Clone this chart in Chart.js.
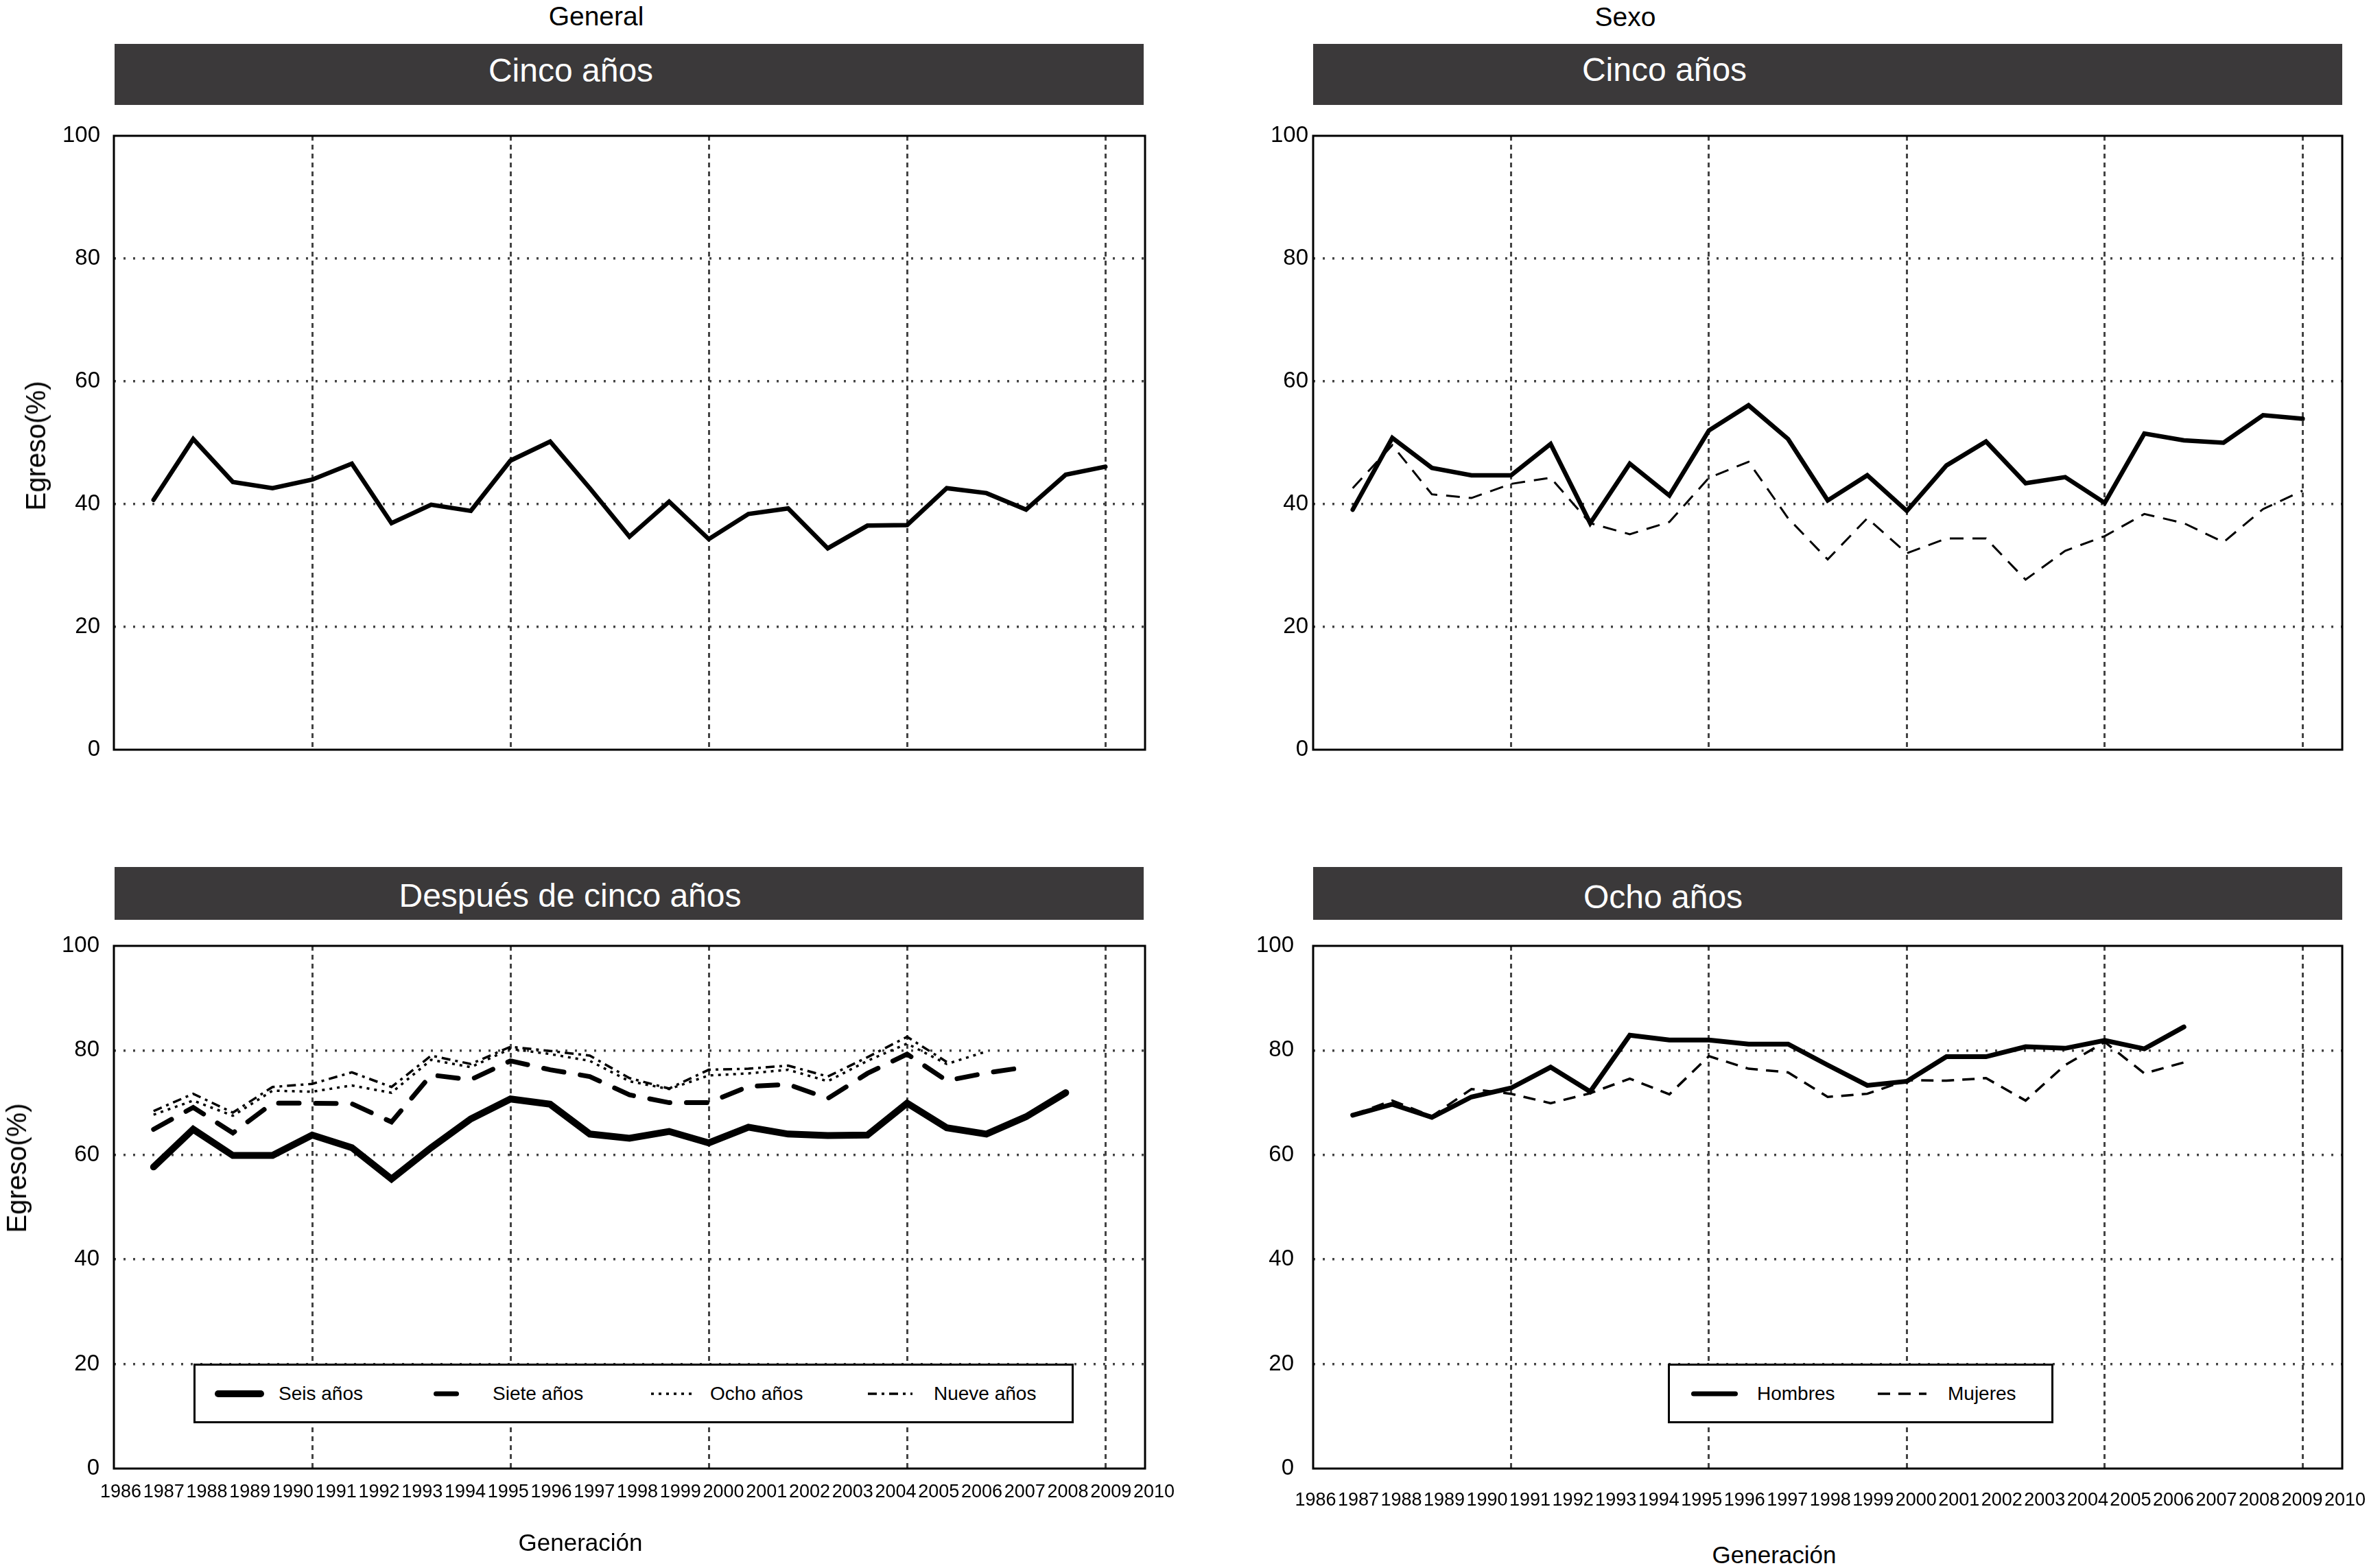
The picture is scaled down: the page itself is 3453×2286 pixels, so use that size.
<!DOCTYPE html>
<html>
<head>
<meta charset="utf-8">
<script src="https://cdn.jsdelivr.net/npm/chart.js@4.4.1/dist/chart.umd.min.js"></script>
<style>
  html, body { margin: 0; padding: 0; background: #fff; }
  body { width: 3453px; height: 2286px; position: relative; overflow: hidden;
         font-family: "Liberation Sans", Arial, sans-serif; color: #000; }
  .wrap { position: absolute; }
  .bar { position: absolute; background: #3b393a; }
  .lbl { position: absolute; white-space: nowrap; transform: translate(-50%, -50%); line-height: 1; }
  .head { color: #fff; font-size: 48px; }
  .ytitle { position: absolute; white-space: nowrap; font-size: 40px; line-height: 1;
            transform: translate(-50%, -50%) rotate(-90deg); }
  .legend { position: absolute; background: #fff; border: 3px solid #000; box-sizing: border-box; }
  .legend span { position: absolute; top: 50%; transform: translateY(-50%); font-size: 28px; white-space: nowrap; line-height: 1; }
  .legend svg { position: absolute; top: 50%; margin-top: -10px; overflow: visible; }
</style>
</head>
<body>

<div class="bar" style="left:167px;top:64px;width:1500px;height:89px"></div>
<div class="bar" style="left:1914px;top:64px;width:1500px;height:89px"></div>
<div class="bar" style="left:167px;top:1264px;width:1500px;height:77px"></div>
<div class="bar" style="left:1914px;top:1264px;width:1500px;height:77px"></div>

<div class="wrap" id="w1"><canvas id="c1"></canvas></div>
<div class="wrap" id="w2"><canvas id="c2"></canvas></div>
<div class="wrap" id="w3"><canvas id="c3"></canvas></div>
<div class="wrap" id="w4"><canvas id="c4"></canvas></div>

<div class="lbl" style="left:869px;top:23px;font-size:39px">General</div>
<div class="lbl" style="left:2369px;top:24px;font-size:39px">Sexo</div>
<div class="lbl head" style="left:832px;top:103px">Cinco años</div>
<div class="lbl head" style="left:2426px;top:102px">Cinco años</div>
<div class="lbl head" style="left:831px;top:1306px">Después de cinco años</div>
<div class="lbl head" style="left:2424px;top:1308px">Ocho años</div>
<div class="ytitle" style="left:52px;top:650px">Egreso(%)</div>
<div class="ytitle" style="left:24px;top:1703px">Egreso(%)</div>
<div class="lbl" style="left:846px;top:2248px;font-size:35px">Generación</div>
<div class="lbl" style="left:2586px;top:2266px;font-size:35px">Generación</div>

<script>
// Generaciones (eje x) y etiquetas
const years = [1986,1987,1988,1989,1990,1991,1992,1993,1994,1995,1996,1997,1998,
               1999,2000,2001,2002,2003,2004,2005,2006,2007,2008,2009,2010];
const yearLabels = ['1986','1987','1988','1989','1990','1991','1992','1993','1994','1995',
                    '1996','1997','1998','1999','2000','2001','2002','2003','2004','2005',
                    '2006','2007','2008','2009','2010'];
const gridYears = [1990,1995,2000,2005,2010];
const yTicks = [0,20,40,60,80,100];

// General - cinco años
const generalCinco = [40.7,50.6,43.6,42.6,44.0,46.6,36.9,39.9,38.9,47.1,50.2,42.6,34.7,
                      40.4,34.3,38.4,39.3,32.8,36.5,36.6,42.6,41.8,39.1,44.8,46.1];
// Sexo - cinco años
const hombresCinco = [39.1,50.8,45.9,44.7,44.7,49.8,36.9,46.6,41.4,52.0,56.1,50.6,40.6,
                      44.7,38.9,46.3,50.2,43.4,44.4,40.2,51.5,50.4,50.0,54.5,53.9];
const mujeresCinco = [42.6,49.6,41.6,41.0,43.3,44.3,36.9,35.1,37.1,44.3,46.9,37.7,31.0,
                      37.7,32.0,34.4,34.4,27.7,32.4,34.8,38.4,36.9,33.8,39.2,42.2];
// General - después de cinco años
const seisAnos  = [57.7,64.9,59.9,59.9,63.8,61.4,55.4,61.4,66.9,70.7,69.7,64.0,63.2,
                   64.5,62.3,65.3,64.0,63.7,63.8,69.9,65.2,64.0,67.3,71.9];
const sieteAnos = [64.9,69.1,64.2,69.9,69.9,69.8,66.3,75.3,74.4,78.0,76.3,75.0,71.5,
                   70.0,70.0,73.1,73.5,70.8,75.6,79.3,74.2,75.7,76.8];
const ochoAnos  = [67.7,70.4,67.5,72.3,72.1,73.3,71.9,78.2,76.8,80.3,79.3,78.0,74.1,
                   72.6,75.2,75.6,76.3,74.1,78.0,81.3,77.4,79.8];
const nueveAnos = [68.4,71.7,68.1,73.0,73.6,75.8,73.0,79.0,77.4,80.7,79.9,79.0,74.7,
                   72.7,76.3,76.5,77.1,75.0,78.7,82.6,77.8];
// Sexo - ocho años
const hombresOcho = [67.6,69.7,67.2,71.1,72.8,76.8,72.1,82.9,82.0,82.0,81.2,81.2,77.2,
                     73.3,74.1,78.8,78.8,80.7,80.4,81.9,80.3,84.5];
const mujeresOcho = [67.7,70.4,67.4,72.6,71.7,69.9,71.8,74.6,71.6,78.9,76.5,75.8,71.1,
                     71.7,74.3,74.2,74.7,70.4,77.2,81.6,75.6,77.7];

const FONT = '"Liberation Sans", Arial, sans-serif';
const GRID = '#444';

function pts(vals){
    return vals.map((v,i)=>({x: years[i], y: v}));
}

// no automatic label padding: the plot box stays where it is put
function noPad(a){
    a.paddingTop = 0; a.paddingBottom = 0; a.paddingLeft = 0; a.paddingRight = 0;
}

// Box around the plot area
const framePlugin = {
    id: 'frame',
    afterDraw(chart){
        const {ctx, chartArea: a} = chart;
        ctx.save();
        ctx.strokeStyle = '#000';
        ctx.lineWidth = 3;
        ctx.strokeRect(a.left, a.top, a.right - a.left, a.bottom - a.top);
        ctx.restore();
    }
};

function makeChart(n, datasets, p){
    const YW = 130, PT = 30, PR = 60;
    const XH = p.labels ? 95 : 30;
    const wrap = document.getElementById('w'+n);
    wrap.style.left = (p.left - YW) + 'px';
    wrap.style.top = (p.top - PT) + 'px';
    wrap.style.width = (YW + p.right - p.left + PR) + 'px';
    wrap.style.height = (PT + p.bottom - p.top + XH) + 'px';

    const scales = {
        x: {
            type: 'linear', position: 'bottom', min: 1985, max: 2011,
            afterBuildTicks: a => { a.ticks = gridYears.map(v=>({value: v})); },
            afterFit: a => { a.height = 0; noPad(a); },
            ticks: {display: false},
            border: {display: false, dash: [7,6]},
            grid: {color: GRID, lineWidth: 3, drawTicks: false}
        },
        y: {
            min: 0, max: 100,
            afterBuildTicks: a => { a.ticks = yTicks.map(v=>({value: v})); },
            afterFit: a => { a.width = YW; noPad(a); },
            ticks: {color: '#000', padding: p.yPad, font: {family: FONT, size: 33},
                    callback: v => String(v)},
            border: {display: false, dash: [3,11]},
            grid: {
                color: c => (c.tick && (c.tick.value === 0 || c.tick.value === 100)) ? 'rgba(0,0,0,0)' : GRID,
                lineWidth: 3.5, drawTicks: false
            }
        }
    };
    if(p.labels){
        scales.xl = {
            type: 'linear', position: 'bottom', min: p.lblMin, max: p.lblMax,
            afterBuildTicks: a => { a.ticks = years.map(v=>({value: v})); },
            afterFit: a => { a.height = XH; noPad(a); },
            grid: {display: false},
            border: {display: false},
            ticks: {autoSkip: false, maxRotation: 0, minRotation: 0, padding: p.lblPad,
                    color: '#000', font: {family: FONT, size: 27},
                    callback: (v,i) => yearLabels[i]}
        };
    }

    return new Chart(document.getElementById('c'+n), {
        type: 'line',
        data: {datasets: datasets.map(d => Object.assign({
            borderColor: '#000', backgroundColor: '#000', fill: false,
            pointRadius: 0, tension: 0, borderJoinStyle: 'miter'
        }, d))},
        options: {
            responsive: true, maintainAspectRatio: false, animation: false,
            layout: {padding: {top: PT, right: PR, left: 0, bottom: p.labels ? 0 : XH}},
            plugins: {legend: {display: false}, tooltip: {enabled: false}},
            scales: scales
        },
        plugins: [framePlugin]
    });
}

function buildLegend(chart, L){
    const box = document.createElement('div');
    box.className = 'legend';
    box.style.left = L.left + 'px';
    box.style.top = L.top + 'px';
    box.style.width = L.width + 'px';
    box.style.height = L.height + 'px';
    chart.data.datasets.forEach((ds, i) => {
        const sw = L.sampleW[i];
        const cap = ds.borderCapStyle === 'round' ? ds.borderWidth / 2 : 0;
        const svg = `<svg width="${sw}" height="20" style="left:${L.sampleX[i]}px">
            <line x1="${cap}" y1="10" x2="${sw - cap}" y2="10" stroke="#000"
              stroke-width="${ds.borderWidth}" stroke-linecap="${ds.borderCapStyle || 'butt'}"
              stroke-dasharray="${(ds.borderDash || []).join(' ') || 'none'}"/></svg>`;
        box.insertAdjacentHTML('beforeend', svg);
        const t = document.createElement('span');
        t.style.left = L.textX[i] + 'px';
        t.textContent = ds.label;
        box.appendChild(t);
    });
    document.body.appendChild(box);
}

makeChart(1, [
    {label: 'General', data: pts(generalCinco), borderWidth: 6.5, borderCapStyle: 'round'}
], {left: 166, top: 198, right: 1669, bottom: 1093, yPad: 20});

makeChart(2, [
    {label: 'Hombres', data: pts(hombresCinco), borderWidth: 6.5, borderCapStyle: 'round'},
    {label: 'Mujeres', data: pts(mujeresCinco), borderWidth: 3, borderDash: [20,13]}
], {left: 1914, top: 198, right: 3414, bottom: 1093, yPad: 7});

const c3 = makeChart(3, [
    {label: 'Seis años', data: pts(seisAnos), borderWidth: 10, borderCapStyle: 'round'},
    {label: 'Siete años', data: pts(sieteAnos), borderWidth: 7, borderDash: [30,24], borderCapStyle: 'round'},
    {label: 'Ocho años', data: pts(ochoAnos), borderWidth: 3.5, borderDash: [4,7]},
    {label: 'Nueve años', data: pts(nueveAnos), borderWidth: 3.5, borderDash: [13,7,4,7]}
], {left: 166, top: 1379, right: 1669, bottom: 2141, yPad: 21,
    labels: true, lblMin: 1985.841, lblMax: 2009.793, lblPad: 10});

const c4 = makeChart(4, [
    {label: 'Hombres', data: pts(hombresOcho), borderWidth: 7, borderCapStyle: 'round'},
    {label: 'Mujeres', data: pts(mujeresOcho), borderWidth: 3.5, borderDash: [18,12]}
], {left: 1914, top: 1379, right: 3414, bottom: 2141, yPad: 28,
    labels: true, lblMin: 1985.944, lblMax: 2009.936, lblPad: 22});

buildLegend(c3, {left: 282, top: 1988, width: 1283, height: 87,
    sampleX: [28, 347, 664, 980], sampleW: [72, 60, 62, 65], textX: [121, 433, 750, 1076]});
buildLegend(c4, {left: 2431, top: 1988, width: 562, height: 87,
    sampleX: [31, 303], sampleW: [68, 71], textX: [127, 405]});
</script>
</body>
</html>
